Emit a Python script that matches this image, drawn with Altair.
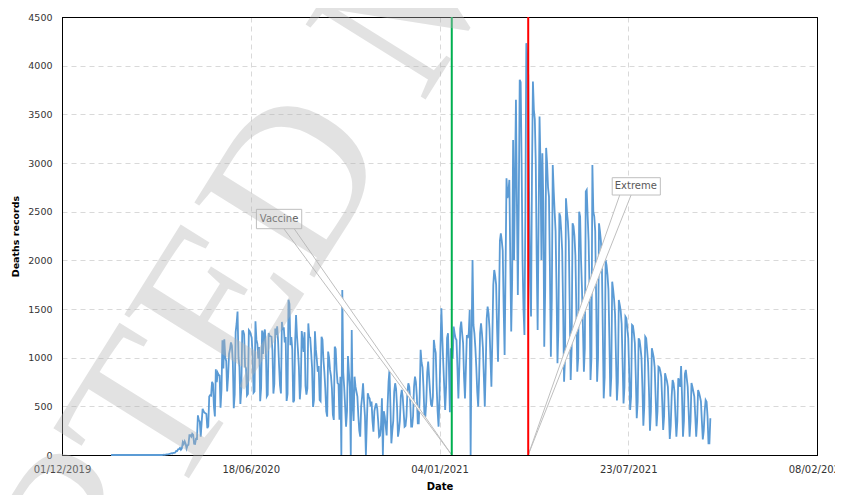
import altair as alt
import pandas as pd

# ---------------- data (daily death records) ----------------
SERIES_START = "2020-01-22"

deaths_before_first_death = [
    0, 0, 0, 0, 0, 0, 0, 0, 0, 0, 0, 0, 0, 0, 0, 0, 0, 0, 0, 0,
    0, 0, 0, 0, 0, 0, 0, 0, 0, 0, 0, 0, 0, 0, 0, 0, 0, 0, 0, 0,
    0, 0, 0, 0, 0, 0, 0, 0, 0, 0, 0, 0, 0,
]

deaths_first_rise = [
    0, 0, 1, 3, 2, 5, 7,
    7, 9, 12, 13, 18, 15, 22,
    22, 25, 42, 40, 58, 60, 73,
    54, 67, 133, 114, 141, 115, 68,
    99, 105, 204, 204, 188, 217, 206,
    115, 113, 166, 165, 407, 357, 346,
    189, 338, 474, 449, 435, 428, 421,
    275, 296, 600, 615, 610, 751, 730,
    496, 396, 881, 749, 844, 824, 816,
    485, 674, 1179, 888, 1188, 1001, 965,
    653, 807, 1039, 1086, 1156, 1124, 956,
]

deaths_first_plateau = [
    480, 623, 1262, 1349, 1473, 1005, 904,
    525, 679, 1272, 1274, 1239, 909, 892,
    612, 627, 1282, 1269, 1238, 1206, 1022,
    641, 654, 1374, 1185, 1141, 990, 1109,
    552, 692, 1280, 1038, 1252, 1290, 1091,
    602, 620, 1254, 1223, 1220, 1214, 1071,
    631, 733, 1300, 1233, 1322, 1163, 921,
    716, 632, 1367, 1284, 1311, 1156, 1211,
    555, 627, 1595, 1554, 1129, 1212, 1088,
    541, 561, 1154, 1437, 1226, 1079, 905,
    572, 703, 1274, 1175, 1060, 1262, 709,
    620, 684, 1352, 1212, 1204, 1054, 892,
    494, 565, 1271, 1085, 984, 855, 914,
    566, 553, 1215, 1184, 982, 855, 682,
]

deaths_between_waves = [
    447, 394, 1062, 1000, 874, 814, 685,
    415, 360, 1113, 1090, 870, 739, 726,
    363, 805, 0, 1696, 850, 700, 500,
    291, 450, 1017, 850, 700, 0, 1285,
    500, 350, 805, 702, 650, 600, 400,
    250, 188, 500, 600, 737, 550, 400,
    0, 326, 634, 600, 580, 500, 548,
    350, 240, 450, 500, 531, 480, 350,
    188, 200, 300, 582, 0, 450, 394,
    300, 200, 500, 750, 874, 500, 120,
    250, 350, 650, 737, 680, 500, 188,
    250, 350, 600, 668, 600, 450, 291,
    300, 400, 650, 737, 700, 550, 291,
    291, 400, 700, 805, 750, 600, 326,
    326, 600, 1080, 950, 900, 700, 420,
    394, 550, 850, 959, 800, 650, 520,
    497, 600, 1182, 1100, 1050, 700, 450,
]

deaths_second_wave = [
    291, 600, 1100, 1508, 1200, 942, 700,
    462, 700, 1200, 1251, 900, 440, 1097,
    1000, 1000, 1319, 1250, 1200, 1182, 900,
    582, 900, 1300, 1370, 1251, 1150, 800,
    582, 900, 1233, 1200, 1251, 1490, 0,
    1200, 2004, 1336, 1250, 1100, 900, 650,
    497, 800, 1250, 1353, 1250, 1100, 800,
    497, 900, 1400, 1524, 1450, 1300, 1000,
    702, 1200, 1750, 1901, 1840, 1750, 1300,
    959, 1500, 2200, 2278, 2200, 2100, 1500,
    1028, 1900, 2844, 2638, 2700, 2826, 2000,
    1268, 1800, 3237, 2004, 2800, 3649, 2600,
    1644, 2600, 3854, 3830, 3000, 2000, 1500,
    1233, 2500, 4231, 4100, 3900, 2600, 1800,
    1422, 2900, 3837, 3546, 3450, 3000, 2000,
    1285, 2400, 3477, 3000, 2004, 3100, 2600,
    1113, 1700, 3155, 3000, 2750, 2655, 1900,
    1010, 1600, 2980, 2723, 2500, 2300, 1700,
]

deaths_decline = [
    942, 1300, 2484, 2450, 2300, 2100, 1500,
    753, 1000, 2638, 2500, 2400, 2200, 1500,
    771, 1100, 2381, 2350, 2250, 2050, 1500,
    856, 1000, 2500, 2450, 2000, 1700, 1300,
    856, 1100, 2706, 2723, 2450, 2200, 1700,
    771, 1000, 2980, 2500, 2450, 2300, 1600,
    753, 1000, 2381, 2300, 2200, 2000, 1300,
    582, 800, 2004, 1950, 1850, 1700, 1200,
    600, 800, 1781, 1700, 1600, 1450, 1000,
    560, 750, 1593, 1542, 1480, 1350, 950,
    530, 700, 1422, 1405, 1300, 1200, 850,
    462, 600, 1336, 1326, 1250, 1150, 800,
    377, 550, 1199, 1180, 1100, 1000, 700,
    300, 500, 1216, 1200, 1080, 950, 650,
    250, 450, 1097, 1050, 1000, 900, 600,
    295, 450, 908, 900, 860, 800, 550,
    257, 400, 840, 800, 760, 700, 450,
    165, 300, 600, 771, 737, 650, 400,
    188, 350, 788, 760, 700, 915, 600,
    188, 350, 830, 874, 788, 700, 450,
    188, 350, 740, 700, 650, 600, 400,
    188, 350, 668, 640, 600, 550, 350,
    161, 250, 450, 565, 548, 400, 120,
    120, 377,
]

# axis ticks
x_tick_dates = ["2019-12-01", "2020-06-18", "2021-01-04", "2021-07-23", "2022-02-08"]
y_tick_values = [0, 500, 1000, 1500, 2000, 2500, 3000, 3500, 4000, 4500]

# event lines
event_names = ["Vaccine", "Extreme"]
event_dates = ["2021-01-17", "2021-04-08"]
event_colors = ["#00b050", "#ff0000"]

# callout boxes (data units)
callout_text = ["Vaccine", "Extreme"]
callout_start = ["2020-06-24", "2021-07-06"]
callout_end = ["2020-08-11", "2021-08-26"]
callout_top = [2524, 2849]
callout_bottom = [2325, 2671]
callout_mid_date = ["2020-07-18", "2021-07-31"]
# pointer wedges: two base points on the box bottom -> tip on the event line
pointer_base_a = ["2020-07-23", "2021-07-14"]
pointer_base_b = ["2020-08-03", "2021-07-26"]
vaccine_wedge_dates = ["2020-07-23", "2020-08-03", "2021-01-17"]
vaccine_wedge_top = [2325, 2325, 0]
vaccine_wedge_bottom = [2325, 2178, 0]
extreme_wedge_dates = ["2021-04-08", "2021-07-14", "2021-07-26"]
extreme_wedge_top = [0, 2671, 2671]
extreme_wedge_bottom = [0, 2369, 2671]

WATERMARK = "ACCEPTED MANUSCRIPT"

# ---------------- tables ----------------
deaths = (deaths_before_first_death + deaths_first_rise + deaths_first_plateau
          + deaths_between_waves + deaths_second_wave + deaths_decline)
dates = pd.date_range(SERIES_START, periods=len(deaths), freq="D")
series = pd.DataFrame({"date": dates.strftime("%Y-%m-%d"), "deaths": deaths})

events = pd.DataFrame({"date": event_dates, "name": event_names, "color": event_colors})
boxes = pd.DataFrame({
    "label": callout_text, "start": callout_start, "end": callout_end,
    "top": callout_top, "bottom": callout_bottom, "mid": callout_mid_date,
    "mid_y": [(a + b) / 2 for a, b in zip(callout_top, callout_bottom)],
})
pointer_rows = []
for i in range(2):
    for base in (pointer_base_a[i], pointer_base_b[i]):
        pointer_rows.append({"x": base, "y": callout_bottom[i], "x2": event_dates[i], "y2": 0})
pointers = pd.DataFrame(pointer_rows)
wedge_v = pd.DataFrame({"date": vaccine_wedge_dates, "top": vaccine_wedge_top, "bottom": vaccine_wedge_bottom})
wedge_e = pd.DataFrame({"date": extreme_wedge_dates, "top": extreme_wedge_top, "bottom": extreme_wedge_bottom})


def dt(s):
    y, m, d = (int(v) for v in s.split("-"))
    return alt.DateTime(year=y, month=m, date=d, utc=True)


# grid lines on the frame edges are drawn solid black (plot border)
EDGE = "datum.index === 0 || datum.index === 1"
grid_color = {"condition": {"test": EDGE, "value": "black"}, "value": "#d9d9d9"}
grid_dash = {"condition": {"test": EDGE, "value": []}, "value": [5, 4]}

x_scale = alt.Scale(type="utc", domain=[dt(x_tick_dates[0]), dt(x_tick_dates[-1])])
y_scale = alt.Scale(domain=[0, 4500], nice=False)

x_enc = alt.X(
    "date:T", scale=x_scale, title="Date",
    axis=alt.Axis(values=[dt(s) for s in x_tick_dates], format="%d/%m/%Y",
                  labelFontSize=10, labelPadding=9, titleFontSize=10, titlePadding=7,
                  labelOverlap=False, labelFlush=False,
                  gridColor=grid_color, gridDash=grid_dash),
)
y_enc = alt.Y(
    "deaths:Q", scale=y_scale, title="Deaths records",
    axis=alt.Axis(values=y_tick_values, format="d", labelFontSize=9.5, labelPadding=10,
                  titleFontSize=9.5, titlePadding=7,
                  gridColor=grid_color, gridDash=grid_dash),
)

line = alt.Chart(series).mark_line(color="#5b9bd5", strokeWidth=1.8).encode(x=x_enc, y=y_enc)

wedge_fill_v = alt.Chart(wedge_v).mark_area(color="white", opacity=1).encode(
    x=alt.X("date:T", scale=x_scale), y=alt.Y("top:Q", scale=y_scale), y2="bottom:Q")
wedge_fill_e = alt.Chart(wedge_e).mark_area(color="white", opacity=1).encode(
    x=alt.X("date:T", scale=x_scale), y=alt.Y("top:Q", scale=y_scale), y2="bottom:Q")

pointer_lines = alt.Chart(pointers).mark_rule(color="#bfbfbf", strokeWidth=1).encode(
    x=alt.X("x:T", scale=x_scale), x2="x2:T",
    y=alt.Y("y:Q", scale=y_scale), y2="y2:Q")

event_rules = alt.Chart(events).mark_rule(strokeWidth=2).encode(
    x=alt.X("date:T", scale=x_scale), color=alt.Color("color:N", scale=None))

box_rects = alt.Chart(boxes).mark_rect(fill="white", stroke="#bfbfbf", strokeWidth=1).encode(
    x=alt.X("start:T", scale=x_scale), x2="end:T",
    y=alt.Y("top:Q", scale=y_scale), y2="bottom:Q")
box_text = alt.Chart(boxes).mark_text(font="DejaVu Sans", fontSize=10, color="#595959").encode(
    x=alt.X("mid:T", scale=x_scale), y=alt.Y("mid_y:Q", scale=y_scale), text="label:N")

watermark = alt.Chart(pd.DataFrame({"t": [WATERMARK]})).mark_text(
    font="Liberation Serif", fontSize=216, angle=302, align="center", baseline="middle",
    color="#b4b4b4", opacity=0.38,
).encode(x=alt.value(364), y=alt.value(-41), text="t:N")

chart = alt.layer(
    line, wedge_fill_v, wedge_fill_e, pointer_lines, event_rules, box_rects, box_text, watermark
).properties(
    width=755, height=438,
    padding={"left": 54, "top": 9, "right": 18, "bottom": 40},
    autosize=alt.AutoSizeParams(type="none"),
).configure_view(
    stroke="black", strokeWidth=1,
).configure_axis(
    grid=True, gridWidth=1,
    domainColor="black", domainWidth=1, tickSize=0, ticks=False,
    labelFont="DejaVu Sans", labelColor="#333333",
    titleFont="DejaVu Sans", titleFontWeight="bold", titleColor="black",
)

chart.save("out.html", embed_options={"renderer": "svg", "actions": False})
